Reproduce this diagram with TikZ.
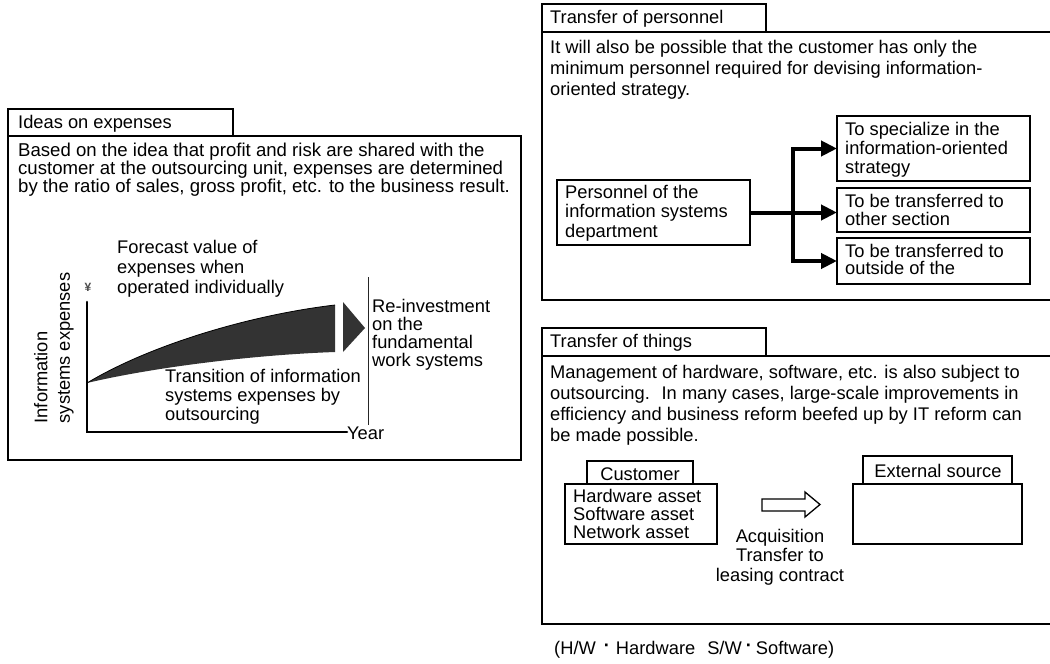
\documentclass[tikz,border=0pt]{standalone}
\usepackage{fontspec}
\setmainfont{Liberation Sans}
\usetikzlibrary{arrows.meta}
\tikzset{
  box/.style={draw=black, line width=1.3pt, inner sep=0pt, outer sep=0pt, anchor=north west},
  txt/.style={inner sep=0pt, anchor=north west, align=left, font=\fontsize{18.3}{20}\selectfont},
  lbl/.style={inner sep=0pt, anchor=west, font=\fontsize{18.3}{20}\selectfont},
  arr/.style={line width=4pt, -{Triangle[length=16pt,width=15pt]}},
  axis/.style={line width=2.6pt, line cap=round},
}
\begin{document}
\begin{tikzpicture}[x=1pt,y=-1pt]
\useasboundingbox (0,0) rectangle (1050,664);
\fill[white] (0,0) rectangle (1050,664);

% ---------------- Left panel: Ideas on expenses ----------------
\node[box, minimum width=513pt, minimum height=324pt] (mainL) at (8,136) {};
\node[box, minimum width=225pt, minimum height=27pt] (tabL) at (8,109) {};
\node[lbl] (tabLt) at (18,124) {Ideas on expenses};
\node[txt, font=\fontsize{18.6}{18}\selectfont] (bodyL) at (18,143)
  {Based on the idea that profit and risk are shared with the\\
   customer at the outsourcing unit, expenses are determined\\
   by the ratio of sales, gross profit, etc. to the business result.};

% chart
\fill[black!80] (87,383) .. controls (150,345) and (250,315) .. (335,305)
  -- (335,352) .. controls (250,355) and (150,368) .. (87,383) -- cycle;
\draw[black, line width=0.8pt] (87,383) .. controls (150,345) and (250,315) .. (335,305);
\fill[black!80] (343,302) -- (365,328) -- (343,352) -- cycle;
\draw[black!85, line width=1pt] (368,277) -- (368,425);
\coordinate (yTop) at (87,302);
\coordinate (orig) at (87,432);
\coordinate (xEnd) at (347,432);
\draw[axis] (yTop) -- (orig) -- (xEnd);
\node[inner sep=0pt, font=\bfseries\fontsize{12}{12}\selectfont, text=black!70] (yen) at (88,287) {¥};
\node[inner sep=0pt, rotate=90, align=left, font=\fontsize{18.3}{22.5}\selectfont] (ylab) at (54,348)
  {Information\\systems expenses};
\node[lbl, anchor=west] (year) at (347,433) {Year};
\node[txt] (fore) at (117,240) {Forecast value of\\expenses when\\operated individually};
\node[txt, font=\fontsize{18.3}{18}\selectfont] (reinv) at (372,299) {Re-investment\\on the\\fundamental\\work systems};
\node[txt, font=\fontsize{18.3}{19}\selectfont] (trans) at (165,369) {Transition of information\\systems expenses by\\outsourcing};

% ---------------- Top right: Transfer of personnel ----------------
\node[box, minimum width=530pt, minimum height=268pt] (mainP) at (542,32) {};
\node[box, minimum width=224pt, minimum height=28pt] (tabP) at (542,4) {};
\node[lbl] (tabPt) at (550,19) {Transfer of personnel};
\node[txt, font=\fontsize{18.3}{21}\selectfont] (bodyP) at (550,40)
  {It will also be possible that the customer has only the\\
   minimum personnel required for devising information-\\
   oriented strategy.};

\node[box, minimum width=193pt, minimum height=65pt] (pers) at (557,180) {};
\node[txt, font=\fontsize{18.3}{19.5}\selectfont] (perst) at (565,185)
  {Personnel of the\\information systems\\department};
\node[box, minimum width=193pt, minimum height=65pt] (b1) at (837,116) {};
\node[txt, font=\fontsize{18.3}{19}\selectfont] (b1t) at (845,122)
  {To specialize in the\\information-oriented\\strategy};
\node[box, minimum width=193pt, minimum height=44pt] (b2) at (837,188) {};
\node[txt, font=\fontsize{18.3}{18}\selectfont] (b2t) at (845,194)
  {To be transferred to\\other section};
\node[box, minimum width=193pt, minimum height=46pt] (b3) at (837,238) {};
\node[txt, font=\fontsize{18.3}{17.5}\selectfont] (b3t) at (845,244)
  {To be transferred to\\outside of the};

\draw[arr] (pers.east) -- (pers.east -| b2.west);
\path (pers.east) -- ++(43,0) coordinate (fork);
\draw[arr] (fork) |- (b1.west);
\draw[arr] (fork) |- (b3.west);

% ---------------- Bottom right: Transfer of things ----------------
\node[box, minimum width=530pt, minimum height=268pt] (mainT) at (542,356) {};
\node[box, minimum width=224pt, minimum height=28pt] (tabT) at (542,328) {};
\node[lbl] (tabTt) at (550,343) {Transfer of things};
\node[txt, font=\fontsize{18.3}{21}\selectfont] (bodyT) at (550,365)
  {Management of hardware, software, etc. is also subject to\\
   outsourcing.\hspace{5pt} In many cases, large-scale improvements in\\
   efficiency and business reform beefed up by IT reform can\\
   be made possible.};

\node[box, minimum width=152pt, minimum height=60pt] (cust) at (565,484) {};
\node[box, minimum width=106pt, minimum height=23pt] (custTab) at (587,461) {};
\node[lbl, anchor=center] (custTabt) at (640,474) {Customer};
\node[txt, font=\fontsize{18.3}{18}\selectfont] (custt) at (573,489)
  {Hardware asset\\Software asset\\Network asset};

\node[box, minimum width=169pt, minimum height=60pt] (ext) at (853,484) {};
\node[box, minimum width=149pt, minimum height=28pt] (extTab) at (863,456) {};
\node[lbl, anchor=center] (extTabt) at (938,471) {External source};

\draw[line width=1.3pt, line join=miter] (762,499) -- (805,499) -- (805,492) -- (820,504.5)
  -- (805,517) -- (805,511) -- (762,511) -- cycle;
\node[txt, anchor=north, align=center, font=\fontsize{18.3}{19.5}\selectfont] (acq) at (780,529)
  {Acquisition\\Transfer to\\leasing contract};

% footnote
\node[lbl] (note) at (554,650)
  {(H/W\hspace{8pt}\raisebox{3pt}{\textbf{·}}\hspace{6pt}Hardware\hspace{12pt}S/W\hspace{4pt}\raisebox{3pt}{\textbf{·}}\hspace{4pt}Software)};
\end{tikzpicture}
\end{document}
